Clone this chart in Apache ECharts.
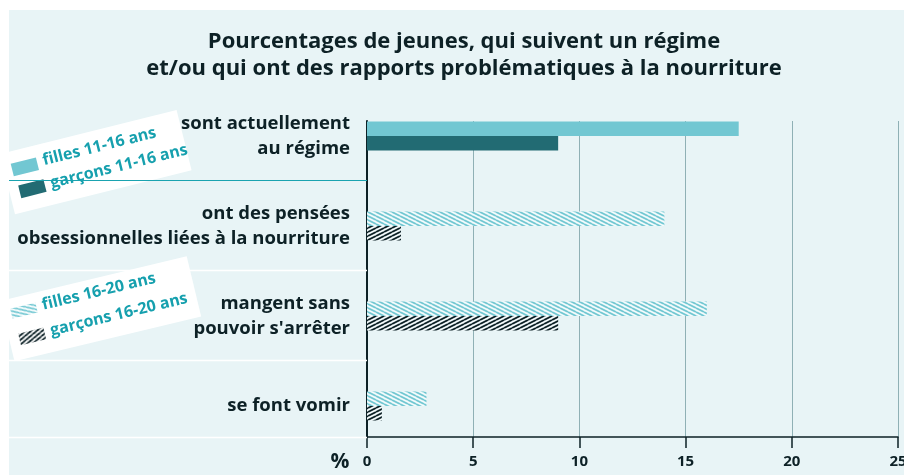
<!DOCTYPE html>
<html>
<head>
<meta charset="utf-8">
<script src="https://cdn.jsdelivr.net/npm/echarts@6/dist/echarts.min.js"></script>
<style>
  html, body { margin: 0; padding: 0; background: #fff; }
  #chart { width: 904px; height: 475px; }
</style>
</head>
<body>
<div id="chart"></div>
<script>
// données (en %)
const categories = [
  'sont actuellement\nau régime',
  'ont des pensées\nobsessionnelles liées à la nourriture',
  'mangent sans\npouvoir s\'arrêter',
  'se font vomir'
];
const filles1116 = [17.5, '-', '-', '-'];
const garcons1116 = [9, '-', '-', '-'];
const filles1620 = ['-', 14, 16, 2.8];
const garcons1620 = ['-', 1.6, 9, 0.7];
const xMin = 0, xMax = 25, xStep = 5;

const DARK = '#0d2126';
const LIGHT = '#72c7d2';
const TEAL = '#226b73';
const LEGEND_TXT = '#16a0ae';
const FONT = 'Open Sans';

// motif hachuré : dir 1 = "\" , dir -1 = "/"
function hatch(color, dir, bg) {
  const c = document.createElement('canvas');
  c.width = 8; c.height = 4;
  const g = c.getContext('2d');
  if (bg) { g.fillStyle = bg; g.fillRect(0, 0, 8, 4); }
  g.strokeStyle = color;
  g.lineWidth = 1.8;
  for (let k = -1; k <= 1; k++) {
    g.beginPath();
    if (dir > 0) { g.moveTo(0, k * 4); g.lineTo(8, k * 4 + 4); }
    else { g.moveTo(0, k * 4 + 4); g.lineTo(8, k * 4); }
    g.stroke();
  }
  return c;
}
const hatchLight = hatch(LIGHT, 1, '#f4fbfc');
const hatchDark = hatch(DARK, -1, '#f4fbfc');
const hatchLightW = hatch(LIGHT, 1, '#ffffff');
const hatchDarkW = hatch(DARK, -1, '#ffffff');

const chart = echarts.init(document.getElementById('chart'));

const deg = Math.PI / 180;
const txt = (text, x, y, extra) => ({
  type: 'text', x: x, y: y,
  style: Object.assign({ text: text, fontFamily: FONT, fontWeight: 'bold', fontSize: 16,
    fill: LEGEND_TXT, verticalAlign: 'middle' }, extra || {})
});
const hline = (y, color, w) => ({
  type: 'line', z: 1,
  shape: { x1: 9, y1: y, x2: 367, y2: y },
  style: { stroke: color, lineWidth: w }
});

chart.setOption({
  animation: false,
  backgroundColor: '#fff',
  graphic: {
    elements: [
      { type: 'rect', z: -10, shape: { x: 9, y: 10, width: 895, height: 465 }, style: { fill: '#e8f4f6' } },
      txt('Pourcentages de jeunes, qui suivent un régime\net/ou qui ont des rapports problématiques à la nourriture',
        464, 55, { fill: DARK, fontSize: 22, textAlign: 'center', lineHeight: 27 }),
      txt('%', 340, 462, { fill: DARK, fontSize: 21, textAlign: 'center' }),
      hline(180.5, '#1aa3b0', 1),
      hline(270.5, '#ffffff', 1.5),
      hline(360.5, '#ffffff', 1.5),
      hline(437.5, '#ffffff', 1.5),
      {
        type: 'group', x: 0, y: 154, rotation: 14 * deg, z: 5,
        children: [
          { type: 'rect', shape: { x: 0, y: 0, width: 182, height: 62 }, style: { fill: '#fff' } },
          { type: 'rect', shape: { x: 8, y: 12, width: 26, height: 13 }, style: { fill: LIGHT } },
          { type: 'rect', shape: { x: 10, y: 35, width: 26, height: 13 }, style: { fill: TEAL } },
          txt('filles 11-16 ans', 40, 17),
          txt('garçons 11-16 ans', 42, 41)
        ]
      },
      {
        type: 'group', x: 0, y: 301, rotation: 13.5 * deg, z: 5,
        children: [
          { type: 'rect', shape: { x: 0, y: 0, width: 192, height: 62 }, style: { fill: '#fff' } },
          { type: 'rect', shape: { x: 8, y: 10, width: 26, height: 10 }, style: { fill: { image: hatchLightW, repeat: 'repeat' } } },
          { type: 'rect', shape: { x: 10, y: 36, width: 26, height: 12 }, style: { fill: { image: hatchDarkW, repeat: 'repeat' } } },
          txt('filles 16-20 ans', 40, 14),
          txt('garçons 16-20 ans', 42, 41)
        ]
      }
    ]
  },
  grid: [
    // cadre des axes
    { left: 367, right: 6, top: 121, bottom: 38, outerBoundsMode: 'none', containLabel: false },
    // zone des barres
    { left: 367, right: 6, top: 91, bottom: 24, outerBoundsMode: 'none', containLabel: false }
  ],
  xAxis: [
    {
      gridIndex: 0, type: 'value', min: xMin, max: xMax, interval: xStep,
      axisLine: { show: true, lineStyle: { color: DARK, width: 1.5 } },
      axisTick: { show: true, length: 11, lineStyle: { color: DARK, width: 1.5 } },
      axisLabel: { color: DARK, fontFamily: FONT, fontWeight: 'bold', fontSize: 15, margin: 17 },
      splitLine: { show: true, lineStyle: { color: '#8fb0b5', width: 1 } }
    },
    {
      gridIndex: 1, type: 'value', min: xMin, max: xMax, show: false,
      splitLine: { show: false }
    }
  ],
  yAxis: [
    {
      gridIndex: 0, type: 'value', min: 0, max: 1, position: 'left',
      axisLine: { show: true, onZero: false, lineStyle: { color: DARK, width: 2 } },
      axisTick: { show: false }, axisLabel: { show: false }, splitLine: { show: false }
    },
    {
      gridIndex: 1, type: 'category', data: categories, inverse: true,
      axisLine: { show: false }, axisTick: { show: false },
      axisLabel: { color: DARK, fontFamily: FONT, fontWeight: 'bold', fontSize: 18.5,
        lineHeight: 25, margin: 17, align: 'right' }
    }
  ],
  series: [
    { name: 'filles 11-16 ans', type: 'bar', xAxisIndex: 1, yAxisIndex: 1, stack: 'f',
      barWidth: 14.5, barGap: '0%', data: filles1116, itemStyle: { color: LIGHT } },
    { name: 'garçons 11-16 ans', type: 'bar', xAxisIndex: 1, yAxisIndex: 1, stack: 'g',
      barWidth: 14.5, barGap: '0%', data: garcons1116, itemStyle: { color: TEAL } },
    { name: 'filles 16-20 ans', type: 'bar', xAxisIndex: 1, yAxisIndex: 1, stack: 'f',
      barWidth: 14.5, barGap: '0%', data: filles1620,
      itemStyle: { color: { image: hatchLight, repeat: 'repeat' } } },
    { name: 'garçons 16-20 ans', type: 'bar', xAxisIndex: 1, yAxisIndex: 1, stack: 'g',
      barWidth: 14.5, barGap: '0%', data: garcons1620,
      itemStyle: { color: { image: hatchDark, repeat: 'repeat' } } }
  ]
});
</script>
</body>
</html>
